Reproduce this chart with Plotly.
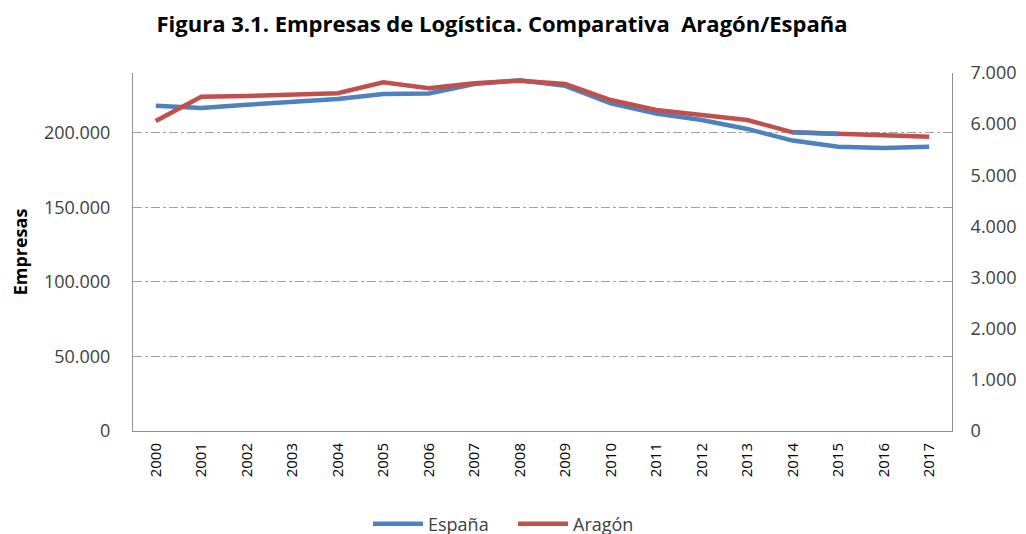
import plotly.graph_objects as go

years = [str(y) for y in range(2000, 2018)]
espana = [218000, 216500, 218700, 220500, 222500, 225900, 226300, 232600, 235200,
          231400, 219600, 212900, 208500, 202500, 194700, 190600, 189700, 190600]
aragon = [6060, 6537, 6550, 6583, 6603, 6818, 6701, 6798, 6850,
          6785, 6472, 6276, 6178, 6081, 5840, 5807, 5768, 5755]

BLUE = "#4F81BD"
RED = "#C0504D"
FONT = "Open Sans"
TXT = "#404040"

fig = go.Figure()
fig.add_trace(go.Scatter(x=years, y=espana, name="España", mode="lines",
                         line=dict(color=BLUE, width=4.5), yaxis="y"))
fig.add_trace(go.Scatter(x=years, y=aragon, name="Aragón", mode="lines",
                         line=dict(color=RED, width=4.5), yaxis="y2"))
# segment of Aragón series drawn in blue in the original (2014-2015)
fig.add_trace(go.Scatter(x=years[14:16], y=aragon[14:16], mode="lines", showlegend=False,
                         line=dict(color=BLUE, width=4.5), yaxis="y2", hoverinfo="skip"))

fig.update_layout(
    width=1026, height=534,
    margin=dict(l=125, r=82, t=65, b=111),
    paper_bgcolor="white", plot_bgcolor="white",
    separators=",.",
    font=dict(family=FONT, color=TXT, size=15),
    title=dict(text="<b>Figura 3.1. Empresas de Logística. Comparativa  Aragón/España</b>",
               x=494 / 1026, xanchor="center", xref="container",
               y=1 - 16 / 534, yanchor="middle", yref="container", automargin=False,
               font=dict(family=FONT, size=22, color="#000000")),
    xaxis=dict(type="category", range=[-0.5, 17.5], tickangle=-90, automargin=False,
               showline=True, linecolor="#909090", linewidth=1, ticklabelstandoff=5,
               showgrid=False, ticks="", tickfont=dict(size=15, color="#000000")),
    yaxis=dict(range=[0, 240000], dtick=50000, tickformat=",d", automargin=False,
               showline=True, linecolor="#909090", linewidth=1, ticklabelstandoff=18,
               showgrid=True, gridcolor="#A0A0A0", gridwidth=1, griddash="dashdot",
               zeroline=False, ticks="", tickfont=dict(size=18, color=TXT),
               title=dict(text="<b>Empresas</b>", font=dict(size=18, color="#000000"),
                          standoff=12)),
    yaxis2=dict(range=[0, 7000], dtick=1000, tickformat=",d", overlaying="y",
                side="right", showline=True, linecolor="#909090", linewidth=1,
                showgrid=False, zeroline=False, ticks="", automargin=False,
                ticklabelstandoff=14, tickfont=dict(size=18, color=TXT)),
    legend=dict(orientation="h", x=505 / 1026, xanchor="center", xref="container",
                y=18 / 534, yanchor="middle", yref="container",
                font=dict(size=18, color=TXT), itemwidth=50, entrywidth=80,
                bgcolor="rgba(0,0,0,0)"),
    showlegend=True,
)

fig.write_html("out.html")
